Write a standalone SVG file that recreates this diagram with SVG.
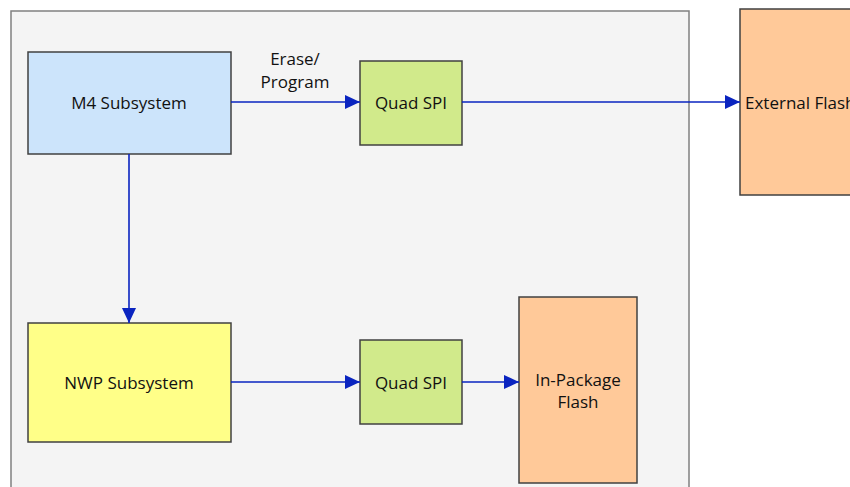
<svg xmlns="http://www.w3.org/2000/svg" width="850" height="487" viewBox="0 0 850 487">
  <defs>
    <marker id="arrow" markerWidth="16" markerHeight="14" refX="15" refY="7" orient="auto" markerUnits="userSpaceOnUse">
      <path d="M0,0 L15,7 L0,14 Z" fill="#0a24c0"/>
    </marker>
    <style>
      .box { stroke: #404040; stroke-width: 1.5; }
      .lbl { font-family: "Open Sans", "Liberation Sans", sans-serif; font-size: 17px; fill: #111; }
      .mid { text-anchor: middle; dominant-baseline: central; }
      .conn { stroke: #0a24c0; stroke-width: 1.6; fill: none; marker-end: url(#arrow); }
    </style>
  </defs>
  <rect width="850" height="487" fill="#ffffff"/>

  <!-- chip boundary -->
  <rect id="chip" x="11" y="11" width="678" height="490" fill="#f4f4f4" stroke="#808080" stroke-width="1.5"/>

  <g id="m4">
    <rect class="box" x="28" y="52" width="203" height="102" fill="#cce4fb"/>
    <text class="lbl mid" x="129" y="102">M4 Subsystem</text>
  </g>

  <g id="qspi1">
    <rect class="box" x="360" y="61" width="102" height="84" fill="#d1ea8b"/>
    <text class="lbl mid" x="411" y="102">Quad SPI</text>
  </g>

  <g id="extflash">
    <rect class="box" x="740" y="9" width="120" height="186" fill="#ffc999"/>
    <text class="lbl" x="745" y="102" dominant-baseline="central">External Flash</text>
  </g>

  <g id="nwp">
    <rect class="box" x="28" y="323" width="203" height="119" fill="#ffff88"/>
    <text class="lbl mid" x="129" y="382">NWP Subsystem</text>
  </g>

  <g id="qspi2">
    <rect class="box" x="360" y="340" width="102" height="84" fill="#d1ea8b"/>
    <text class="lbl mid" x="411" y="382">Quad SPI</text>
  </g>

  <g id="inpkg">
    <rect class="box" x="519" y="297" width="118" height="186" fill="#ffc999"/>
    <text class="lbl mid" x="578" y="379">In-Package</text>
    <text class="lbl mid" x="578" y="401">Flash</text>
  </g>

  <g id="connectors">
    <line class="conn" x1="231" y1="102" x2="360" y2="102"/>
    <line class="conn" x1="462" y1="102" x2="740" y2="102"/>
    <line class="conn" x1="129" y1="154" x2="129" y2="323"/>
    <line class="conn" x1="231" y1="382" x2="360" y2="382"/>
    <line class="conn" x1="462" y1="382" x2="519" y2="382"/>
    <text class="lbl mid" x="295" y="58">Erase/</text>
    <text class="lbl mid" x="295" y="81">Program</text>
  </g>
</svg>
